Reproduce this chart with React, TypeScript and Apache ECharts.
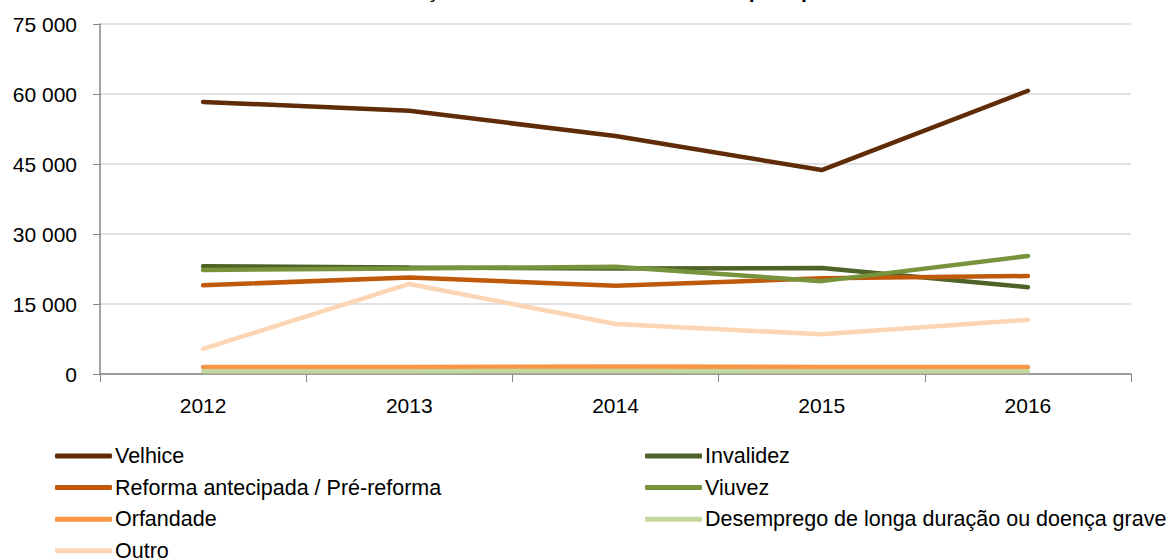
import React, { useEffect, useRef } from "react";
import * as echarts from "echarts";

const categories = ["2012", "2013", "2014", "2015", "2016"];
const velhice = [58300, 56400, 51000, 43700, 60700];
const invalidez = [23100, 22800, 22600, 22700, 18600];
const reforma = [19000, 20700, 18900, 20500, 21000];
const viuvez = [22300, 22600, 23000, 19900, 25300];
const orfandade = [1500, 1500, 1600, 1500, 1500];
const desemprego = [600, 600, 650, 600, 600];
const outro = [5400, 19300, 10700, 8500, 11600];

const titleText = "Gráfico 1 – Evolução do número de beneficiários por tipo de benefício";

const seriesDefs = [
  { name: "Velhice", data: velhice, color: "#5F2C07" },
  { name: "Invalidez", data: invalidez, color: "#4F6228" },
  { name: "Reforma antecipada / Pré-reforma", data: reforma, color: "#C05A0A" },
  { name: "Viuvez", data: viuvez, color: "#77933C" },
  { name: "Orfandade", data: orfandade, color: "#F79646" },
  { name: "Desemprego de longa duração ou doença grave", data: desemprego, color: "#C3D69B" },
  { name: "Outro", data: outro, color: "#FCD5B5" },
];

const fontFamily = "'Liberation Sans', Arial, sans-serif";

export default function App() {
  const ref = useRef<HTMLDivElement>(null);
  useEffect(() => {
    if (!ref.current) return;
    const chart = echarts.init(ref.current, null, { renderer: "svg" });
    const legendCommon = {
      orient: "vertical",
      icon: "roundRect",
      itemWidth: 57,
      itemHeight: 5,
      itemGap: 9.6,
      height: 200,
      width: 600,
      textStyle: { fontSize: 21.5, lineHeight: 20, color: "#000", fontFamily, padding: [0, 0, 0, -2] },
    };
    chart.setOption({
      animation: false,
      title: {
        text: titleText,
        left: 250,
        top: -25,
        textStyle: { fontSize: 21, fontWeight: "bold", color: "#000", fontFamily },
      },
      grid: { left: 100, right: 43, top: 24, bottom: 186, containLabel: false },
      legend: [
        {
          ...legendCommon,
          left: 50,
          top: 440,
          data: ["Velhice", "Reforma antecipada / Pré-reforma", "Orfandade", "Outro"],
        },
        {
          ...legendCommon,
          left: 640,
          top: 440,
          data: ["Invalidez", "Viuvez", "Desemprego de longa duração ou doença grave"],
        },
      ],
      xAxis: {
        type: "category",
        data: categories,
        boundaryGap: true,
        axisLine: { lineStyle: { color: "#868686", width: 1.5 } },
        axisTick: { show: true, length: 8, lineStyle: { color: "#868686" } },
        axisLabel: { fontSize: 21, color: "#000", fontFamily, margin: 21 },
      },
      yAxis: {
        type: "value",
        min: 0,
        max: 75000,
        interval: 15000,
        axisLine: { show: true, lineStyle: { color: "#868686", width: 1.5 } },
        axisTick: { show: true, length: 7, lineStyle: { color: "#868686" } },
        splitLine: { lineStyle: { color: "#D9D9D9", width: 1.5 } },
        axisLabel: {
          fontSize: 21,
          color: "#000",
          fontFamily,
          margin: 23,
          formatter: (v: number) => (v === 0 ? "0" : `${Math.floor(v / 1000)} ${String(v % 1000).padStart(3, "0")}`),
        },
      },
      series: seriesDefs.map((s) => ({
        type: "line",
        name: s.name,
        data: s.data,
        color: s.color,
        symbol: "none",
        lineStyle: { width: 4.5, color: s.color, cap: "round" },
      })),
    });
    return () => chart.dispose();
  }, []);
  return (
    <div
      ref={ref}
      style={{ position: "fixed", left: 0, top: 0, width: 1174, height: 560, background: "#fff" }}
    />
  );
}
